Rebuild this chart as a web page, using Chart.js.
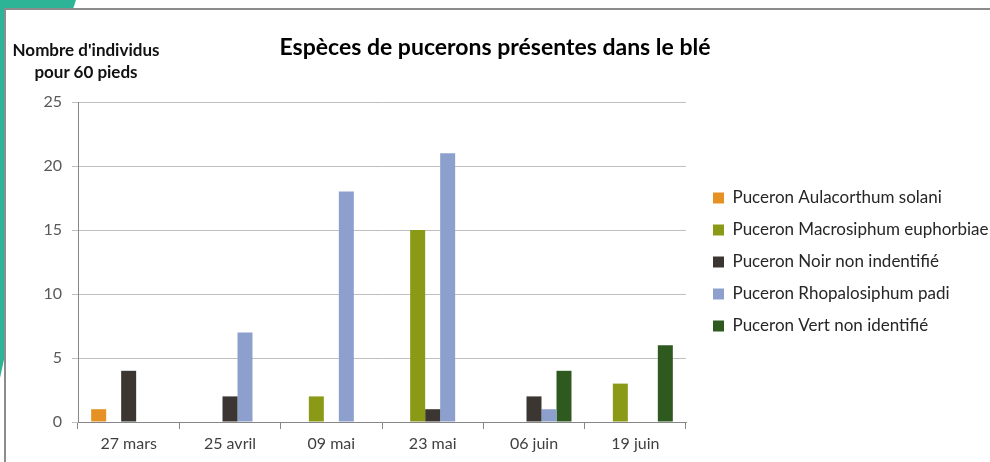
<!DOCTYPE html>
<html>
<head>
<meta charset="utf-8">
<script src="https://cdn.jsdelivr.net/npm/chart.js@4/dist/chart.umd.min.js"></script>
<style>
  html, body { margin: 0; padding: 0; background: #fff; }
  #wrap { position: relative; width: 990px; height: 462px; overflow: hidden; }
  #teal {
    position: absolute; left: 0; top: 0; width: 78px; height: 380px;
    background: #2db395;
    clip-path: polygon(0 0, 76px 0, 73px 9px, 5px 9px, 5px 355px, 0 378px);
  }
  #frame {
    position: absolute; left: 4px; top: 8px; right: -4px; bottom: -4px;
    border-top: 2px solid #8c8c8c; border-left: 2px solid #8c8c8c;
  }
  #yTitle {
    position: absolute; left: 0; top: 39px; width: 172px;
    text-align: center; font: bold 17px Lato, sans-serif; line-height: 22px; color: #111;
  }
  canvas { position: absolute; left: 0; top: 0; }
</style>
</head>
<body>
<div id="wrap">
  <div id="teal"></div>
  <div id="frame"></div>
  <canvas id="chart" width="990" height="462"></canvas>
  <div id="yTitle">Nombre d'individus<br>pour 60 pieds</div>
</div>
<script>
// data
const dates = ['27 mars', '25 avril', '09 mai', '23 mai', '06 juin', '19 juin'];
const aulacorthum = [1, null, null, null, null, null];
const macrosiphum = [null, null, 2, 15, null, 3];
const noir = [4, 2, null, 1, 2, null];
const rhopalosiphum = [null, 7, 18, 21, 1, null];
const vert = [null, null, null, null, 4, 6];
const yMax = 25;
const yStep = 5;

const font = 'Lato, sans-serif';

const chart = new Chart(document.getElementById('chart'), {
  type: 'bar',
  data: {
    labels: dates,
    datasets: [
      { label: 'Puceron Aulacorthum solani', data: aulacorthum, backgroundColor: '#e69124' },
      { label: 'Puceron Macrosiphum euphorbiae', data: macrosiphum, backgroundColor: '#8a9a16' },
      { label: 'Puceron Noir non indentifié', data: noir, backgroundColor: '#3b3631' },
      { label: 'Puceron Rhopalosiphum padi', data: rhopalosiphum, backgroundColor: '#8da0cd' },
      { label: 'Puceron Vert non identifié', data: vert, backgroundColor: '#2f5a1f' },
    ],
  },
  options: {
    responsive: false,
    animation: false,
    layout: { padding: 0 },
    datasets: {
      bar: { categoryPercentage: 0.74, barPercentage: 1, skipNull: false },
    },
    plugins: {
      title: {
        display: true,
        text: 'Espèces de pucerons présentes dans le blé',
        color: '#000',
        font: { family: font, size: 23, weight: 'bold' },
        padding: { top: 34, bottom: 40.4 },
      },
      legend: {
        position: 'right',
        align: 'center',
        fullSize: false,
        maxWidth: 292,
        labels: {
          boxWidth: 11,
          boxHeight: 11,
          padding: 15,
          color: '#262626',
          font: { family: font, size: 17 },
        },
      },
      tooltip: { enabled: false },
    },
    scales: {
      x: {
        grid: { drawOnChartArea: false, drawTicks: true, tickLength: 7, color: '#868686', offset: true },
        border: { color: '#868686' },
        ticks: { color: '#404040', font: { family: font, size: 16 }, padding: 5 },
        afterFit(scale) { scale.height = 40; },
      },
      y: {
        min: 0,
        max: yMax,
        ticks: { stepSize: yStep, color: '#595959', font: { family: font, size: 16 }, padding: 10 },
        grid: { color: '#bfbfbf', tickLength: 6 },
        border: { color: '#868686' },
        afterFit(scale) { scale.width = 78; },
      },
      // empty right axis, only keeps the gap between plot and legend
      gap: {
        position: 'right',
        grid: { display: false },
        ticks: { display: false },
        border: { display: false },
        afterFit(scale) { scale.width = 12; },
      },
    },
  },
});
</script>
</body>
</html>
